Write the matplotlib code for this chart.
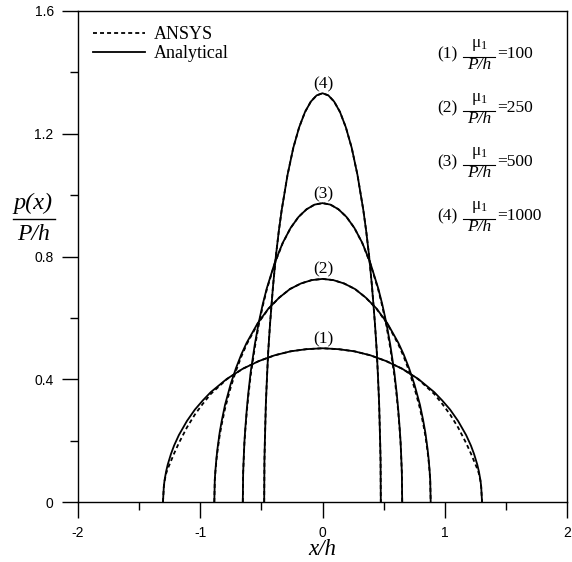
import numpy as np
import matplotlib
matplotlib.use("Agg")
import matplotlib.pyplot as plt
from matplotlib.lines import Line2D

# --- CONFIG ---
OUT_PNG = "out.png"
FIG_W, FIG_H = 572, 562
SERIF = "Liberation Serif"
SANS = "Liberation Sans"

plt.rcParams["mathtext.fontset"] = "custom"
plt.rcParams["mathtext.rm"] = SERIF
plt.rcParams["mathtext.it"] = SERIF + ":italic"

# --- DATA (right half, x/h >= 0; curves are symmetric about x = 0) ---
curve_ids = ["(1)", "(2)", "(3)", "(4)"]
mu_ratio = [100, 250, 500, 1000]

x_1 = [0.0, 0.131, 0.261, 0.392, 0.522, 0.653, 0.783, 0.914, 0.979, 1.044,
       1.109, 1.175, 1.214, 1.240, 1.266, 1.279, 1.292, 1.298, 1.305]
x_2 = [0.0, 0.089, 0.177, 0.266, 0.354, 0.443, 0.531, 0.620, 0.664, 0.708,
       0.752, 0.797, 0.823, 0.841, 0.858, 0.867, 0.876, 0.881, 0.885]
x_3 = [0.0, 0.065, 0.130, 0.196, 0.261, 0.326, 0.391, 0.456, 0.489, 0.522,
       0.554, 0.587, 0.606, 0.619, 0.632, 0.639, 0.645, 0.649, 0.652]
x_4 = [0.0, 0.048, 0.095, 0.143, 0.191, 0.239, 0.286, 0.334, 0.358, 0.382,
       0.405, 0.429, 0.444, 0.453, 0.463, 0.467, 0.472, 0.475, 0.477]

# analytical p(x)/(P/h)
p_an_1 = [0.501, 0.498, 0.491, 0.478, 0.459, 0.434, 0.401, 0.358, 0.331, 0.301,
          0.264, 0.218, 0.184, 0.156, 0.122, 0.100, 0.071, 0.050, 0.0]
p_an_2 = [0.727, 0.723, 0.712, 0.694, 0.666, 0.630, 0.582, 0.519, 0.481, 0.436,
          0.383, 0.317, 0.267, 0.227, 0.177, 0.145, 0.103, 0.073, 0.0]
p_an_3 = [0.974, 0.969, 0.954, 0.929, 0.893, 0.844, 0.779, 0.696, 0.644, 0.584,
          0.513, 0.425, 0.358, 0.304, 0.237, 0.194, 0.137, 0.097, 0.0]
p_an_4 = [1.332, 1.325, 1.305, 1.271, 1.221, 1.154, 1.066, 0.951, 0.881, 0.799,
          0.702, 0.581, 0.490, 0.416, 0.324, 0.265, 0.188, 0.133, 0.0]

# ANSYS p(x)/(P/h)
p_fe_1 = [0.501, 0.498, 0.491, 0.478, 0.459, 0.434, 0.400, 0.352, 0.320, 0.285,
          0.243, 0.192, 0.158, 0.133, 0.108, 0.093, 0.068, 0.049, 0.0]
p_fe_2 = [0.727, 0.723, 0.712, 0.694, 0.666, 0.629, 0.580, 0.514, 0.474, 0.427,
          0.372, 0.305, 0.256, 0.217, 0.169, 0.139, 0.099, 0.071, 0.0]
p_fe_3 = [0.974, 0.969, 0.954, 0.929, 0.893, 0.843, 0.777, 0.692, 0.638, 0.576,
          0.503, 0.414, 0.348, 0.296, 0.231, 0.190, 0.134, 0.095, 0.0]
p_fe_4 = [1.332, 1.325, 1.305, 1.271, 1.221, 1.154, 1.066, 0.951, 0.881, 0.799,
          0.702, 0.581, 0.490, 0.416, 0.324, 0.265, 0.188, 0.133, 0.0]

x_half = [x_1, x_2, x_3, x_4]
analytical = [p_an_1, p_an_2, p_an_3, p_an_4]
ansys = [p_fe_1, p_fe_2, p_fe_3, p_fe_4]

x_major = [-2, -1, 0, 1, 2]
x_minor = [-1.5, -0.5, 0.5, 1.5]
y_major = [0, 0.4, 0.8, 1.2, 1.6]
y_minor = [0.2, 0.6, 1.0, 1.4]
x_labels = ["-2", "-1", "0", "1", "2"]
y_labels = ["0", "0.4", "0.8", "1.2", "1.6"]


def mirror(x, p):
    x = np.asarray(x)
    p = np.asarray(p)
    return np.concatenate([-x[::-1], x[1:]]), np.concatenate([p[::-1], p[1:]])


def fx(px):
    return px / FIG_W


def fy(py):
    return 1 - py / FIG_H


fig = plt.figure(figsize=(FIG_W / 100, FIG_H / 100), dpi=100)
ax = fig.add_axes([fx(78), fy(502), fx(567) - fx(78), fy(11) - fy(502)])

lw = 1.3
dash = (2.2, 1.7)
for xh, pa, pf in zip(x_half, analytical, ansys):
    xs, ps = mirror(xh, pf)
    ax.plot(xs, ps, color="black", lw=lw, linestyle=(0, dash))
    xs, ps = mirror(xh, pa)
    ax.plot(xs, ps, color="black", lw=lw)

# curve numbers just above each peak
for cid, pa in zip(curve_ids, analytical):
    ax.annotate(cid, (0, pa[0]), xytext=(0.5, 6.5), textcoords="offset points",
                ha="center", va="center", fontsize=12.5, family=SERIF)

ax.set_xlim(-2, 2)
ax.set_ylim(0, 1.6)
ax.set_xticks(x_major)
ax.set_xticks(x_minor, minor=True)
ax.set_yticks(y_major)
ax.set_yticks(y_minor, minor=True)
ax.set_xticklabels(x_labels, family=SANS, fontsize=10)
ax.set_yticklabels(y_labels, family=SANS, fontsize=10)
ax.tick_params(which="major", direction="out", length=11.5, width=1.0, pad=6.0)
ax.tick_params(axis="x", which="major", pad=6)
ax.tick_params(which="minor", direction="out", length=5.8, width=1.0)
for s in ax.spines.values():
    s.set_linewidth(1.0)

# legend
handles = [Line2D([], [], color="black", lw=lw, linestyle=(0, dash)),
           Line2D([], [], color="black", lw=lw)]
ax.legend(handles, ["ANSYS", "Analytical"], loc="upper left",
          bbox_to_anchor=(0.03, 0.969), frameon=False, borderpad=0,
          borderaxespad=0, handlelength=2.9, handletextpad=0.5,
          labelspacing=0.12, prop={"family": SERIF, "size": 13})

# axis labels
ax.text(0.5, -0.108, "x/h", transform=ax.transAxes, ha="center", va="baseline",
        fontsize=16.5, family=SERIF, style="italic")
fig.text(fx(33), fy(203), "p(x)", ha="center", va="center", fontsize=17.5,
         family=SERIF, style="italic")
fig.text(fx(34), fy(234), "P/h", ha="center", va="center", fontsize=17,
         family=SERIF, style="italic")
fig.add_artist(Line2D([fx(13), fx(55)], [fy(219), fy(219)], color="black",
                      lw=1.0, transform=fig.transFigure))

# parameter key on the right
for i, (cid, m) in enumerate(zip(curve_ids, mu_ratio)):
    yc = 53 + 54 * i
    fig.text(fx(437), fy(yc + 1), cid, ha="left", va="center", fontsize=12.5,
             family=SERIF)
    fig.text(fx(479), fy(yc - 9), r"$\mathrm{\mu}_1$", ha="center", va="center",
             fontsize=12.5)
    fig.text(fx(479), fy(yc + 12), "P/h", ha="center", va="center", fontsize=12.5,
             family=SERIF, style="italic")
    fig.add_artist(Line2D([fx(463), fx(495)], [fy(yc + 3.5), fy(yc + 3.5)],
                          color="black", lw=0.8, transform=fig.transFigure))
    fig.text(fx(497), fy(yc + 1), f"={m}", ha="left", va="center", fontsize=12.5,
             family=SERIF)

fig.savefig(OUT_PNG, dpi=100)
